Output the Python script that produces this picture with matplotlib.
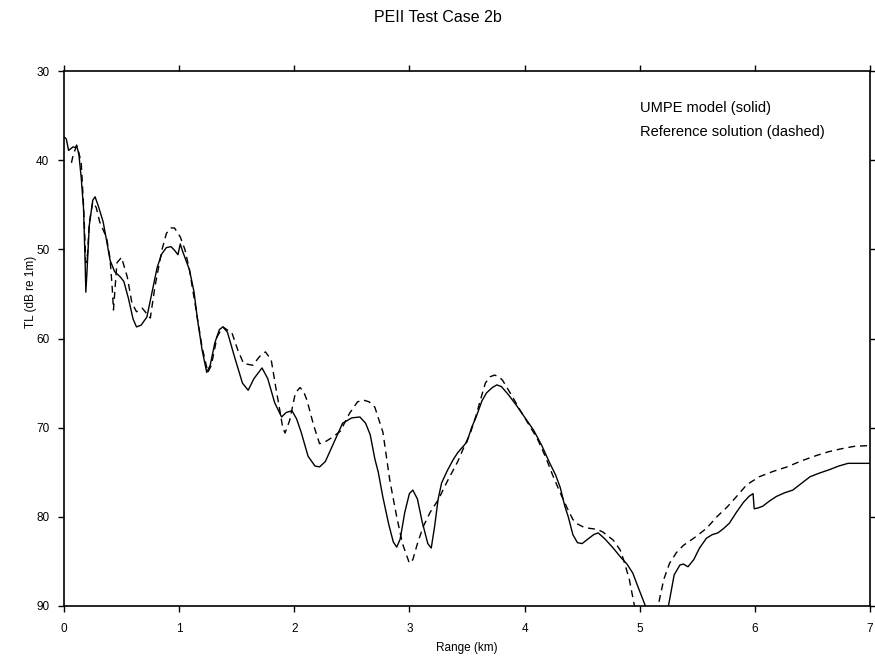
import numpy as np
import matplotlib
matplotlib.use("Agg")
import matplotlib.pyplot as plt

plt.rcParams['font.family'] = ['Liberation Sans', 'DejaVu Sans']

# UMPE model (solid)
umpe_r = [0.00, 0.02, 0.04, 0.06, 0.08, 0.10, 0.11, 0.13, 0.15, 0.17, 0.185, 0.19, 0.20, 0.22,
          0.25, 0.27, 0.30, 0.34, 0.37, 0.40, 0.44, 0.49, 0.52, 0.56, 0.60, 0.63, 0.67, 0.72,
          0.77, 0.81, 0.85, 0.89, 0.93, 0.96, 0.99, 1.01, 1.03, 1.09, 1.13, 1.16, 1.20, 1.24,
          1.27, 1.31, 1.35, 1.38, 1.42, 1.48, 1.55, 1.60, 1.65, 1.72, 1.77, 1.83, 1.89, 1.93,
          1.98, 2.02, 2.06, 2.12, 2.18, 2.22, 2.27, 2.35, 2.42, 2.50, 2.57, 2.62, 2.66, 2.70,
          2.73, 2.77, 2.82, 2.86, 2.89, 2.92, 2.96, 3.00, 3.03, 3.07, 3.11, 3.16, 3.19, 3.22,
          3.25, 3.28, 3.33, 3.38, 3.42, 3.50, 3.54, 3.58, 3.63, 3.67, 3.72, 3.76, 3.80, 3.86,
          3.93, 4.00, 4.08, 4.15, 4.22, 4.27, 4.31, 4.35, 4.38, 4.42, 4.46, 4.50, 4.55, 4.60,
          4.64, 4.70, 4.77, 4.84, 4.89, 4.94, 4.99, 5.05, 5.10, 5.15, 5.20, 5.25, 5.30, 5.35,
          5.38, 5.42, 5.47, 5.52, 5.58, 5.63, 5.68, 5.73, 5.78, 5.84, 5.90, 5.95, 5.985, 5.995,
          6.03, 6.07, 6.13, 6.19, 6.26, 6.33, 6.40, 6.48, 6.56, 6.65, 6.73, 6.81, 6.90, 7.00]
umpe_tl = [37.4, 37.6, 38.9, 38.7, 38.5, 38.6, 38.3, 39.4, 42.0, 45.4, 52.0, 54.8, 52.5, 47.3,
           44.5, 44.1, 45.2, 46.9, 49.0, 51.2, 52.5, 53.1, 53.6, 55.5, 57.8, 58.7, 58.5, 57.6,
           54.5, 52.0, 50.5, 49.8, 49.7, 50.1, 50.6, 49.4, 50.2, 52.3, 54.8, 57.9, 61.3, 63.8,
           63.0, 60.5, 59.0, 58.7, 59.3, 62.0, 65.0, 65.8, 64.5, 63.3, 64.5, 67.2, 68.8, 68.3,
           68.1, 69.0, 70.5, 73.2, 74.3, 74.4, 73.8, 71.5, 69.5, 68.9, 68.8, 69.5, 70.8, 73.5,
           75.0, 77.8, 80.8, 82.8, 83.4, 82.5, 79.5, 77.4, 77.0, 78.0, 80.5, 83.0, 83.5, 81.0,
           78.0, 76.2, 74.8, 73.6, 72.8, 71.6, 70.0, 68.8, 67.0, 66.1, 65.5, 65.2, 65.4, 66.3,
           67.5, 68.8, 70.3, 72.0, 74.0, 75.3, 76.7, 78.8, 80.0, 82.0, 82.9, 83.0, 82.5, 82.0,
           81.8, 82.5, 83.5, 84.6, 85.3, 86.3, 88.0, 90.0, 94.0, 95.0, 94.0, 90.0, 86.5, 85.4,
           85.3, 85.6, 84.8, 83.5, 82.4, 82.0, 81.8, 81.3, 80.7, 79.5, 78.4, 77.7, 77.4, 79.1,
           79.0, 78.8, 78.2, 77.7, 77.3, 77.0, 76.3, 75.5, 75.1, 74.7, 74.3, 74.0, 74.0, 74.0]

# Reference solution (dashed)
ref_r = [0.065, 0.08, 0.11, 0.13, 0.15, 0.17, 0.19, 0.205, 0.22, 0.25, 0.28, 0.31, 0.37, 0.40,
         0.42, 0.43, 0.44, 0.46, 0.50, 0.55, 0.59, 0.63, 0.68, 0.75, 0.79, 0.85, 0.89, 0.93,
         0.96, 1.01, 1.05, 1.09, 1.15, 1.20, 1.25, 1.28, 1.33, 1.38, 1.46, 1.51, 1.56, 1.64,
         1.70, 1.75, 1.80, 1.84, 1.87, 1.90, 1.92, 1.96, 2.01, 2.05, 2.08, 2.11, 2.17, 2.22,
         2.28, 2.34, 2.40, 2.48, 2.55, 2.60, 2.65, 2.70, 2.77, 2.83, 2.89, 2.94, 3.00, 3.03,
         3.07, 3.12, 3.18, 3.25, 3.33, 3.42, 3.48, 3.53, 3.58, 3.63, 3.66, 3.70, 3.74, 3.78,
         3.81, 3.88, 3.96, 4.03, 4.11, 4.18, 4.25, 4.31, 4.37, 4.42, 4.46, 4.52, 4.57, 4.63,
         4.68, 4.73, 4.77, 4.83, 4.86, 4.91, 4.94, 4.97, 5.06, 5.15, 5.17, 5.21, 5.26, 5.32,
         5.38, 5.48, 5.58, 5.67, 5.76, 5.85, 5.93, 6.04, 6.16, 6.28, 6.41, 6.54, 6.64, 6.74,
         6.86, 7.00]
ref_tl = [40.3, 39.4, 38.4, 39.2, 40.3, 45.0, 51.5, 50.5, 47.0, 44.7, 45.3, 46.9, 48.7, 51.0,
          54.5, 56.8, 55.0, 51.5, 50.9, 53.1, 56.0, 57.0, 56.6, 57.7, 54.2, 50.1, 48.2, 47.6,
          47.6, 48.6, 50.0, 52.3, 57.0, 61.0, 63.8, 63.0, 59.8, 58.7, 59.4, 61.3, 62.8, 63.0,
          62.0, 61.5, 62.4, 65.5, 67.7, 70.0, 70.6, 69.2, 66.1, 65.5, 65.9, 66.9, 69.8, 71.8,
          71.5, 71.0, 70.4, 68.4, 67.1, 66.9, 67.1, 67.7, 70.5, 75.9, 80.0, 83.0, 85.2, 84.8,
          83.0, 81.1, 79.5, 78.1, 76.0, 73.8, 72.0, 70.6, 68.6, 66.3, 65.0, 64.3, 64.1, 64.3,
          64.7, 66.2, 68.0, 69.5, 71.2, 73.2, 75.5, 77.3, 79.0, 80.3, 80.8, 81.2, 81.3, 81.4,
          81.7, 82.2, 82.6, 83.7, 84.8, 87.0, 89.0, 91.0, 96.0, 91.0, 89.4, 87.0, 85.2, 84.0,
          83.2, 82.3, 81.3, 80.0, 78.9, 77.6, 76.4, 75.5, 74.9, 74.4, 73.7, 73.1, 72.7, 72.4,
          72.1, 72.0]

fig = plt.figure(figsize=(8.75, 6.62), dpi=100)
ax = fig.add_axes([0.0731, 0.0846, 0.9211, 0.8081])

ax.plot(umpe_r, umpe_tl, color='black', lw=1.0)
ax.plot(ref_r, ref_tl, color='black', lw=1.0, linestyle=(0, (5, 3.5)))

ax.set_xlim(0, 7)
ax.set_ylim(90, 30)
ax.set_xticks(range(0, 8))
ax.set_yticks(range(30, 100, 10))

ax.tick_params(direction='out', length=4.5, width=1.0, labelsize=8.5,
               top=True, right=True, labeltop=False, labelright=False)
ax.tick_params(axis='x', pad=8)
ax.tick_params(axis='y', pad=6)
for s in ax.spines.values():
    s.set_linewidth(1.2)

ax.text(0.7146, 0.931, 'UMPE model (solid)', transform=ax.transAxes,
        fontsize=10.5, va='center', ha='left')
ax.text(0.7146, 0.886, 'Reference solution (dashed)', transform=ax.transAxes,
        fontsize=10.5, va='center', ha='left')

fig.text(0.5, 0.974, 'PEII Test Case 2b', ha='center', va='center', fontsize=11.5)
fig.text(0.5336, 0.021, 'Range (km)', ha='center', va='center', fontsize=8.5)
fig.text(0.036, 0.559, 'TL (dB re 1m)', ha='center', va='center', rotation=90, fontsize=8.5)

fig.savefig('out.png', dpi=100)
